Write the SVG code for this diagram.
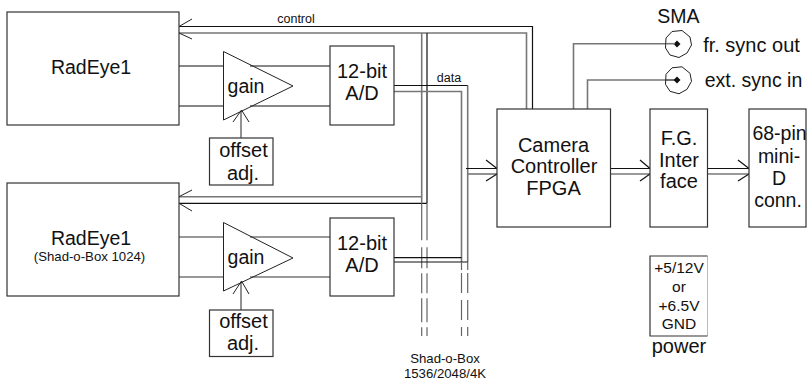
<svg xmlns="http://www.w3.org/2000/svg" width="809" height="382" viewBox="0 0 809 382">
<style>
text{font-family:"Liberation Sans",Arial,sans-serif;fill:#111;text-anchor:middle}
.b{fill:none;stroke:#222;stroke-width:1}
.g{fill:none;stroke:#777;stroke-width:1.6}
.k{fill:none;stroke:#111;stroke-width:1.2}
.d{fill:none;stroke:#666;stroke-width:1.2}
.box{fill:#fff;stroke:#333;stroke-width:1.2}
.t20{font-size:20px}.t19{font-size:19.500px}.t15{font-size:15.500px}.t13{font-size:13.200px}.t12{font-size:12.500px}
</style>
<rect width="809" height="382" fill="#fff"/>
<g id="connectors">
<path class="k" d="M179 26.500H532.500V109"/>
<path class="g" d="M179 33H526.500V109"/>
<path class="g" d="M179 196.700H421.700"/>
<path class="k" d="M179 203.300H427"/>
<path class="g" d="M421.700 33V203.300"/>
<path class="k" d="M427 33V203.300"/>
<path class="d" d="M421.700 203.300V336" stroke-dasharray="37 7 21 5 20 5 24 5 9"/>
<path class="d" d="M427 203.300V336" stroke-dasharray="37 7 21 5 20 5 24 5 9"/>
<path class="k" d="M394 85.500H468"/>
<path class="g" d="M394 91.500H461.500V262"/>
<path class="g" d="M467.700 85.500V262"/>
<path class="k" d="M394 257.700H461.500"/>
<path class="k" d="M394 262H468"/>
<path class="d" d="M461.500 262V336" stroke-dasharray="8 3 20 7 20 7 9"/>
<path class="d" d="M467.700 262V336" stroke-dasharray="8 3 20 7 20 7 9"/>
<path class="k" d="M466 168.500H497M486 160L497 168.500"/>
<path class="g" d="M467.700 174H497"/><path class="k" d="M486 181L497 174"/>
<path class="k" d="M610.500 168.500H650M640 160L650 168.500"/>
<path class="g" d="M610.500 174H650"/><path class="k" d="M640 181L650 174"/>
<path class="k" d="M707.500 168.500H749M738 160L749 168.500"/>
<path class="g" d="M707.500 174H749"/><path class="k" d="M738 181L749 174"/>
<path class="b" d="M179 26.500L192 19M179 33L192 39M179 196.700L192 190M179 203.300L192 211"/>
<path class="g" d="M573.500 109V43.700H666"/>
<path class="g" d="M587.500 109V80H666"/>
<path class="k" d="M177 66H223.500M250 66H332M177 106H223.500M250 106H332"/>
<path class="g" d="M177 237H223.500M250 237H332M177 277H223.500M250 277H332"/>
<path class="g" d="M241 138V111M241 310V283"/>
<path class="b" d="M233 122L241.500 110L249 122M233 294L241.500 281L249 294"/>
</g>
<g id="radeye-1"><rect class="box" x="7" y="12" width="172" height="113"/><text class="t19" x="91" y="74">RadEye1</text></g>
<g id="radeye-2"><rect class="box" x="7" y="183" width="172" height="113"/><text class="t19" x="91" y="245">RadEye1</text><text class="t13" x="89.500" y="261">(Shad-o-Box 1024)</text></g>
<g id="gain-1"><path class="b" d="M223.500 51.500L293 86L223.500 120Z"/><text class="t19" x="246" y="93">gain</text></g>
<g id="gain-2"><path class="b" d="M223.500 222.500L293 258L223.500 291Z"/><text class="t19" x="246" y="264">gain</text></g>
<g id="ad-1"><rect class="box" x="330" y="46" width="64" height="79"/><text class="t20" x="362" y="78">12-bit</text><text class="t20" x="362" y="100">A/D</text></g>
<g id="ad-2"><rect class="box" x="330" y="218" width="64" height="78"/><text class="t20" x="362" y="250">12-bit</text><text class="t20" x="362" y="272">A/D</text></g>
<g id="offset-1"><rect class="box" x="209.500" y="138" width="63.500" height="47"/><text class="t20" x="243.500" y="157">offset</text><text class="t20" x="243" y="180">adj.</text></g>
<g id="offset-2"><rect class="box" x="209.500" y="310" width="63.500" height="46.500"/><text class="t20" x="243.500" y="328">offset</text><text class="t20" x="243" y="350">adj.</text></g>
<g id="fpga"><rect class="box" x="497" y="109" width="113.500" height="118"/><text class="t20" x="553.500" y="152">Camera</text><text class="t20" x="554" y="173">Controller</text><text class="t20" x="553.500" y="195">FPGA</text></g>
<g id="fg"><rect class="box" x="650" y="109" width="57.500" height="118"/><text class="t20" x="679" y="145">F.G.</text><text class="t20" x="679" y="167">Inter</text><text class="t20" x="679" y="188">face</text></g>
<g id="conn"><rect class="box" x="749" y="109" width="57" height="118"/><text class="t19" x="779.500" y="140">68-pin</text><text class="t19" x="779" y="163">mini-</text><text class="t19" x="779" y="185">D</text><text class="t19" x="778" y="207">conn.</text></g>
<g id="power"><path d="M707.500 256V336" fill="none" stroke="#bbb"/><path class="box" style="fill:none" d="M707.500 256H650V336H707.500"/><text class="t15" x="679" y="273">+5/12V</text><text class="t15" x="679" y="292">or</text><text class="t15" x="679" y="310.500">+6.5V</text><text class="t15" x="679" y="329">GND</text><text class="t20" x="679" y="353">power</text></g>
<g id="sma-1"><path class="b" d="M672 31.500L682 30.500L690 37L691.500 45L687 53L679 57.500L670 55L665.500 48L666 38Z"/><path d="M673.500 44L677 40.500L680.500 44L677 47.500Z" fill="#111"/></g>
<g id="sma-2"><path class="b" d="M672 67.800L682 66.800L690 73.300L691.500 81.300L687 89.300L679 93.800L670 91.300L665.500 84.300L666 74.300Z"/><path d="M673.500 80L677 76.500L680.500 80L677 83.500Z" fill="#111"/></g>
<path class="g" d="M666 43.700H675"/><path class="k" d="M666 80H675"/>
<text class="t19" x="678.500" y="23">SMA</text>
<text class="t20" x="751.500" y="52">fr. sync out</text>
<text class="t19" x="753.500" y="87">ext. sync in</text>
<text class="t12" x="296" y="23">control</text>
<text class="t12" x="449" y="82">data</text>
<text class="t13" x="445" y="363">Shad-o-Box</text>
<text class="t13" x="445" y="378">1536/2048/4K</text>
</svg>
